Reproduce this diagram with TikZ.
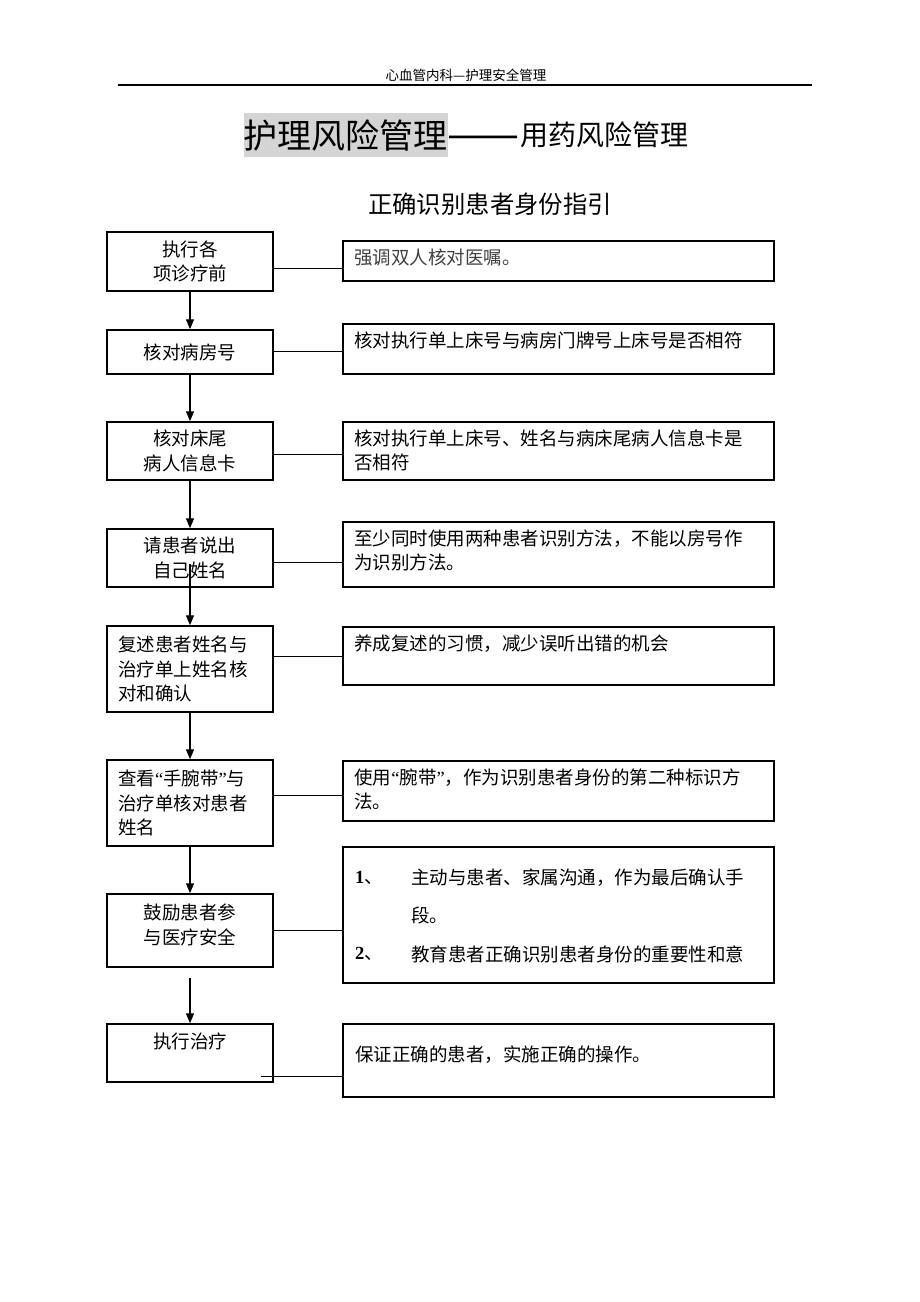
\documentclass[tikz,border=0pt]{standalone}
\usepackage{fontspec}
\setmainfont{Noto Sans CJK SC}
\newfontfamily\numfont{Liberation Serif}
\usepackage{tikz}
\usetikzlibrary{arrows.meta,positioning}
\newcommand{\bodysize}{\fontsize{18.5}{24.5}\selectfont}
\newcommand{\openq}{{\numfont “}}
\newcommand{\closeq}{{\numfont ”}}
\tikzset{lbox/.style={draw, line width=1.5pt, minimum width=166, align=center, inner sep=0pt, font=\bodysize}}
\tikzset{rbox/.style={draw, line width=1.5pt, minimum width=431, inner sep=0pt}}
\tikzset{rtext/.style={anchor=north west, inner sep=0pt, align=left, font=\bodysize}}
\tikzset{flow/.style={line width=1.3pt, -{Triangle[length=10pt,width=8pt]}}}
\tikzset{link/.style={line width=1pt}}

\begin{document}
\begin{tikzpicture}[x=1pt, y=-1pt]
	\useasboundingbox (0,0) rectangle (920,1302);

	% Header
	\node[font=\fontsize{13.5}{16}\selectfont] (header) at (466,75) {心血管内科—护理安全管理};
	\coordinate (rule west) at (118,85);	\coordinate (rule east) at (812,85);
	\draw[line width=1.5pt] (rule west) -- (rule east);

	% Titles
	\node[fill=black!17, inner sep=0pt, minimum height=44, font=\fontsize{34}{40}\selectfont] (title main) at (345.5,135) {护理风险管理};
	\node[right=0pt of title main, yshift=-8, inner sep=0pt, font=\fontsize{43}{48}\selectfont] (title dash) {——};
	\node[right=0pt of title main, xshift=73, inner sep=0pt, font=\fontsize{28}{34}\selectfont] (title sub) {用药风险管理};
	\node[font=\fontsize{24.4}{30}\selectfont] (subtitle) at (490,204) {正确识别患者身份指引};

	% LHS
	\node[lbox, minimum height=59] (l1) at (190,261.5) {执行各\\项诊疗前};
	\node[lbox, minimum height=44] (l2) at (190,352) {核对病房号};
	\node[lbox, minimum height=58] (l3) at (190,451) {核对床尾\\病人信息卡};
	\node[lbox, minimum height=58] (l4) at (190,558) {请患者说出\\自己姓名};
	\node[lbox, minimum height=86, align=left, text width=144] (l5) at (190,669) {复述患者姓名与\\治疗单上姓名核\\对和确认};
	\node[lbox, minimum height=86, align=left, text width=144] (l6) at (190,803) {查看\openq 手腕带\closeq 与\\治疗单核对患者\\姓名};
	\node[lbox, minimum height=73] (l7) at (190,930.5) {鼓励患者参\\与医疗安全\\[-11.5pt]};
	\node[lbox, minimum height=58] (l8) at (190,1053) {执行治疗\\ \mbox{}};

	\coordinate (l4 tail) at (190,564);
	\coordinate (l7 tail) at (190,978);
	\coordinate (l8 tail) at (261,1076);

	% RHS
	\node[rbox, minimum height=40] (r1) at (558.5,261) {};
	\node[rtext, text=black!75] (t1) at ([shift={(12,8)}]r1.north west) {强调双人核对医嘱。};

	\node[rbox, minimum height=50] (r2) at (558.5,349) {};
	\node[rtext] (t2) at ([shift={(12,8)}]r2.north west) {核对执行单上床号与病房门牌号上床号是否相符};

	\node[rbox, minimum height=58] (r3) at (558.5,451) {};
	\node[rtext] (t3) at ([shift={(12,8)}]r3.north west) {核对执行单上床号、姓名与病床尾病人信息卡是\\否相符};

	\node[rbox, minimum height=65] (r4) at (558.5,554.5) {};
	\node[rtext] (t4) at ([shift={(12,8)}]r4.north west) {至少同时使用两种患者识别方法，不能以房号作\\为识别方法。};

	\node[rbox, minimum height=58] (r5) at (558.5,656) {};
	\node[rtext] (t5) at ([shift={(12,8)}]r5.north west) {养成复述的习惯，减少误听出错的机会};

	\node[rbox, minimum height=60] (r6) at (558.5,791) {};
	\node[rtext] (t6) at ([shift={(12,8)}]r6.north west) {使用\openq 腕带\closeq ，作为识别患者身份的第二种标识方\\法。};

	\node[rbox, minimum height=136] (r7) at (558.5,915) {};
	\node[rtext, anchor=west] (n1) at (355,878) {\textbf{\numfont 1}、};
	\node[rtext, font=\fontsize{18.5}{38}\selectfont] (i1) at (411,869) {主动与患者、家属沟通，作为最后确认手\\段。};
	\node[rtext, anchor=west] (n2) at (355,954) {\textbf{\numfont 2}、};
	\node[rtext, anchor=west] (i2) at (411,954) {教育患者正确识别患者身份的重要性和意};

	\node[rbox, minimum height=73] (r8) at (558.5,1060.5) {};
	\node[rtext, anchor=west] (t8) at (355,1055) {保证正确的患者，实施正确的操作。};

	% Horizontals
	\draw[link] ([yshift=-6.5]l1.east) -- ([yshift=-6.5]l1.east -| r1.west);
	\draw[link] ([yshift=1]l2.east) -- ([yshift=1]l2.east -| r2.west);
	\draw[link] ([yshift=-3]l3.east) -- ([yshift=-3]l3.east -| r3.west);
	\draw[link] ([yshift=-4]l4.east) -- ([yshift=-4]l4.east -| r4.west);
	\draw[link] ([yshift=13]l5.east) -- ([yshift=13]l5.east -| r5.west);
	\draw[link] ([yshift=8]l6.east) -- ([yshift=8]l6.east -| r6.west);
	\draw[link] (l7.east) -- (l7.east -| r7.west);
	\draw[link] (l8 tail) -- (l8 tail -| r8.west);

	% Verticals
	\draw[flow] (l1) -- (l2);
	\draw[flow] (l2) -- (l3);
	\draw[flow] (l3) -- (l4);
	\draw[flow] (l4 tail) -- (l5);
	\draw[flow] (l5) -- (l6);
	\draw[flow] (l6) -- (l7);
	\draw[flow] (l7 tail) -- (l8);
\end{tikzpicture}
\end{document}
